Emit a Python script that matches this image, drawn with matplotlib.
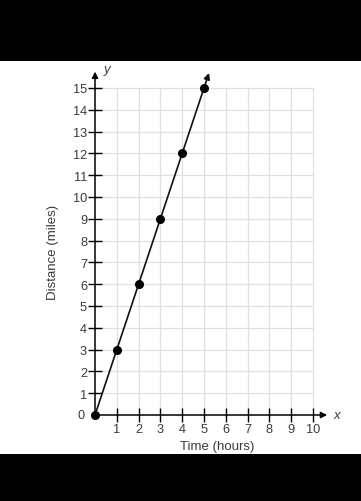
import matplotlib
matplotlib.use("Agg")
import matplotlib.pyplot as plt
from matplotlib.patches import Rectangle
import numpy as np

# Data
time_hours = [0, 1, 2, 3, 4, 5]
distance_miles = [0, 3, 6, 9, 12, 15]
x_ticks = list(range(1, 11))
y_ticks = list(range(0, 16))
x_label = "Time (hours)"
y_label = "Distance (miles)"

plt.rcParams['font.family'] = ['Liberation Sans', 'DejaVu Sans']
txt = '#3a3a3a'
fs_tick = 9.2
fs_lab = 9.5

fig = plt.figure(figsize=(3.61, 5.02), dpi=100)
fig.patch.set_facecolor('white')
# black bands
fig.patches.append(Rectangle((0, 1 - 62/502), 1, 62/502, transform=fig.transFigure,
                             facecolor='black', edgecolor='none', zorder=0))
fig.patches.append(Rectangle((0, 0), 1, 47/502, transform=fig.transFigure,
                             facecolor='black', edgecolor='none', zorder=0))

ax = fig.add_axes([0.2028, 0.1279, 0.7548, 0.760])
ax.set_facecolor('none')
ax.set_xlim(-1, 11.5)
ax.set_ylim(-1, 16.5)

# grid
for gx in x_ticks:
    ax.plot([gx, gx], [0, 15], color='#e0e0e0', lw=0.9, zorder=1)
for gy in y_ticks[1:]:
    ax.plot([0, 10], [gy, gy], color='#e0e0e0', lw=0.9, zorder=1)

for s in ['top', 'right']:
    ax.spines[s].set_visible(False)
ax.spines['left'].set_position(('data', 0))
ax.spines['bottom'].set_position(('data', 0))
ax.spines['left'].set_visible(False)
ax.spines['bottom'].set_visible(False)

# axes arrows
ax.annotate('', xy=(10.65, 0), xytext=(0, 0),
            arrowprops=dict(arrowstyle='-|>', color='black', lw=1.1,
                            mutation_scale=9, shrinkA=0, shrinkB=0), zorder=3)
ax.annotate('', xy=(0, 15.75), xytext=(0, 0),
            arrowprops=dict(arrowstyle='-|>', color='black', lw=1.1,
                            mutation_scale=9, shrinkA=0, shrinkB=0), zorder=3)

ax.set_xticks(x_ticks)
ax.set_xticklabels([str(v) for v in x_ticks])
ax.set_yticks(y_ticks[1:])
ax.set_yticklabels([str(v) for v in y_ticks[1:]])
ax.tick_params(axis='both', direction='inout', length=9.5, width=1.0, color='black',
               labelsize=fs_tick, labelcolor=txt, pad=1)
ax.text(-0.62, 0, str(y_ticks[0]), ha='center', va='center', fontsize=fs_tick, color=txt)

# line with arrow extension
slope = (distance_miles[-1] - distance_miles[0]) / (time_hours[-1] - time_hours[0])
ext = 0.23
ax.annotate('', xy=(time_hours[-1] + ext, distance_miles[-1] + slope * ext),
            xytext=(time_hours[0], distance_miles[0]),
            arrowprops=dict(arrowstyle='-|>', color='#111111', lw=1.2,
                            mutation_scale=9, shrinkA=0, shrinkB=0), zorder=4)
ax.plot(time_hours, distance_miles, 'o', color='black', markersize=5.5, zorder=5)

ax.text(10.95, 0, 'x', style='italic', fontsize=9.5, color=txt, ha='left', va='center')
ax.text(0.38, 15.85, 'y', style='italic', fontsize=9.5, color=txt, ha='left', va='center')

ax.text(5.6, -1.42, x_label, ha='center', va='center', fontsize=fs_lab, color=txt, clip_on=False)
ax.text(-1.95, 7.5, y_label, ha='center', va='center', rotation=90, fontsize=fs_lab,
        color=txt, clip_on=False)

fig.savefig('out.png', dpi=100)
